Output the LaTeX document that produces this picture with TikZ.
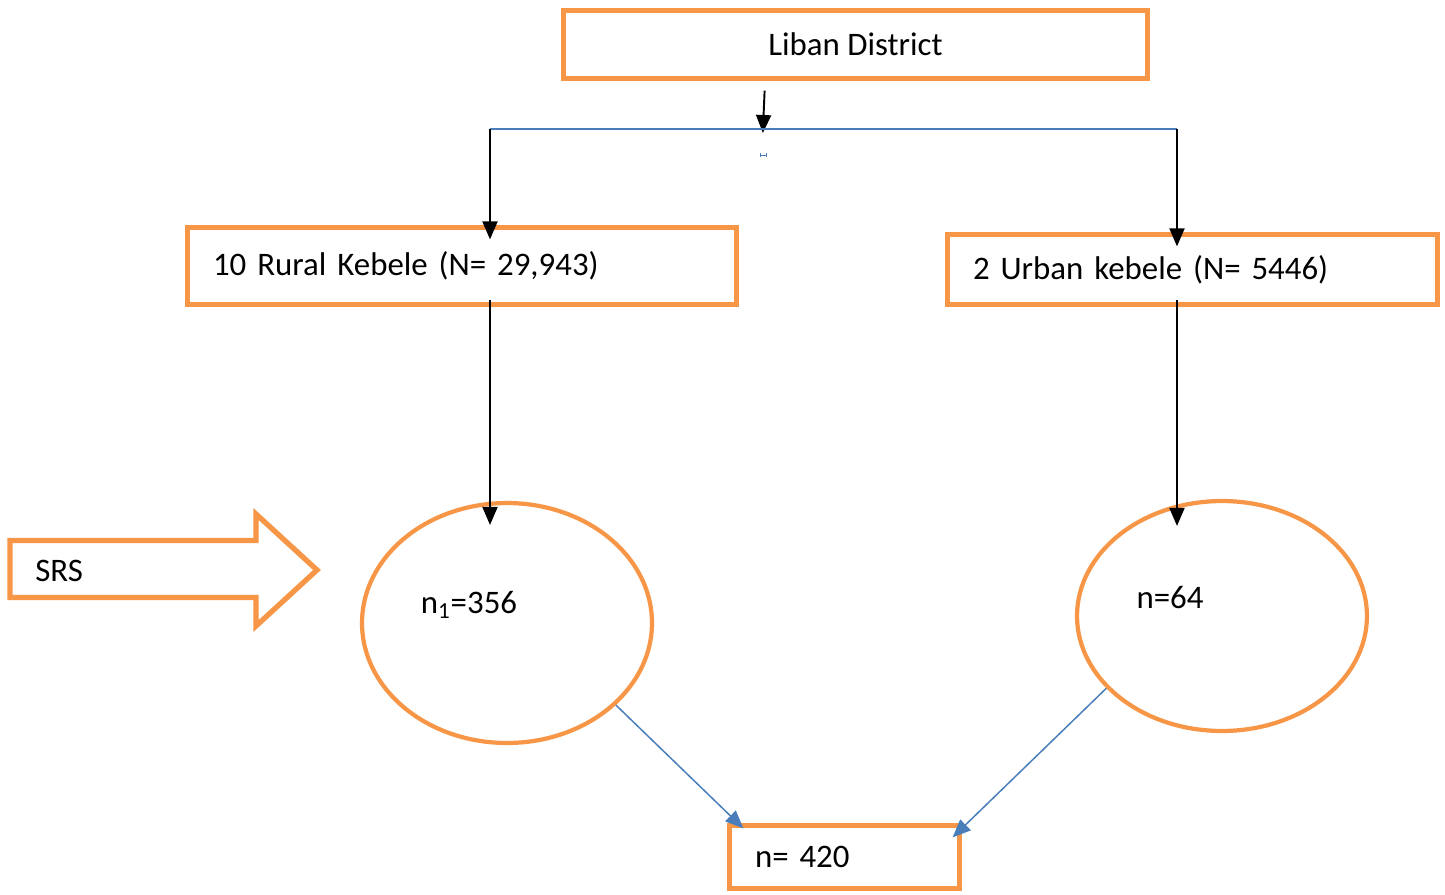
\documentclass[tikz,border=0pt]{standalone}
\usepackage{fontspec}
\setmainfont{Carlito}
\usetikzlibrary{arrows.meta,shapes.geometric}
\definecolor{boxorange}{HTML}{F79646}
\definecolor{lineblue}{HTML}{4A7EBB}
\begin{document}
\begin{tikzpicture}[x=0.02cm, y=-0.02cm, every node/.style={font=\fontsize{18.7}{22}\selectfont},
  box/.style={draw=boxorange,line width=3pt,inner sep=0pt},
  lbox/.style={box,align=left,inner xsep=0.51cm,inner ysep=0pt},
  samp/.style={draw=boxorange,line width=2.4pt,ellipse,inner sep=0pt,minimum width=5.8cm},
  blk/.style={-{Triangle[width=0.3cm,length=0.36cm]},line width=1.1pt},
  blu/.style={-{Triangle[width=0.3cm,length=0.36cm]},line width=0.85pt,color=lineblue}]
\useasboundingbox (0,0) rectangle (1445,894);
% Boxes
\node[box,minimum width=11.68cm,minimum height=1.36cm] (dist) at (855.5,44.5) {Liban District};
\node[lbox,text width=9.96cm,minimum height=1.54cm] (rural) at (462,266) {10 Rural Kebele (N= 29,943)};
\node[lbox,text width=8.78cm,minimum height=1.4cm] (urban) at (1192.5,269.5) {2 Urban kebele (N= 5446)};
\node[lbox,text width=3.58cm,minimum height=1.26cm] (total) at (844.5,857) {n= 420};
% Samples
\node[samp,minimum height=4.8cm,label={[xshift=-0.76cm,yshift=0.36cm]center:n\textsubscript{1}=356}] (rsamp) at (507,623) {};
\node[samp,minimum height=4.6cm,label={[xshift=-1.04cm,yshift=0.36cm]center:n=64}] (usamp) at (1222,616) {};
% SRS arrow
\draw[draw=boxorange,line width=3pt,line join=miter] (10,540.5) -- (256,540.5) -- (256,514) -- (317,570) -- (256,626) -- (256,597.5) -- (10,597.5) -- cycle;
\node[anchor=west,inner sep=0pt] (srs) at (35,571) {SRS};
% Split
\coordinate (split) at (763,129);
\coordinate (ltop) at (490,129);
\coordinate (rtop) at (1177,129);
\draw[blk,shorten <=0.19cm,shorten >=-0.08cm] (765,0 |- dist.south) -- (split);
\draw[lineblue,line width=0.85pt] (ltop) -- (rtop);
\draw[lineblue,line width=0.5pt] (760,155) -- (766,155) (760,153) -- (760,157) (766,153) -- (766,157);
\draw[blk,shorten >=-0.29cm] (ltop) -- (ltop |- rural.north);
\draw[blk,shorten >=-0.29cm] (rtop) -- (rtop |- urban.north);
\draw[blk,shorten <=-0.15cm,shorten >=-0.48cm] (ltop |- rural.south) -- (ltop |- rsamp.north);
\draw[blk,shorten <=-0.15cm,shorten >=-0.54cm] (rtop |- urban.south) -- (rtop |- usamp.north);
% Total
\draw[blu] (rsamp.-37.6) -- ([shift={(16.5,5.5)}]total.north west);
\draw[blu] (usamp.212.7) -- ([shift={(-9.5,14.5)}]total.north east);
\end{tikzpicture}
\end{document}
